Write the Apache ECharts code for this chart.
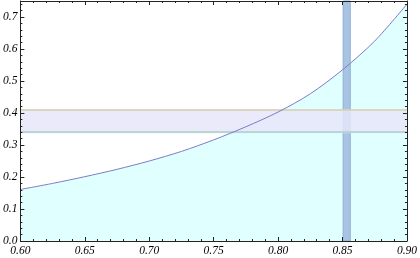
<!DOCTYPE html>
<html><head><meta charset="utf-8">
<script src="https://cdn.jsdelivr.net/npm/echarts@6/dist/echarts.min.js"></script>
<style>html,body{margin:0;padding:0;background:#fff}#c{width:420px;height:258px}</style>
</head><body><div id="c"></div>
<script>
const xValues = [0.600,0.625,0.650,0.675,0.700,0.725,0.750,0.775,0.800,0.825,0.850,0.875,0.900];
const yValues = [0.161,0.180,0.201,0.224,0.250,0.280,0.316,0.357,0.403,0.460,0.535,0.625,0.740];
const hBand = [0.337, 0.411];
const vBand = [0.8505, 0.856];
const xTicks = [0.60,0.65,0.70,0.75,0.80,0.85,0.90];
const yTicks = [0.0,0.1,0.2,0.3,0.4,0.5,0.6,0.7];

const pts = xValues.map((x,i)=>[x,yValues[i]]);
const labelFont = {fontFamily:'Liberation Serif', fontStyle:'italic', fontSize:11.5, color:'#000'};
const axLine = {show:true, onZero:false, lineStyle:{color:'#222', width:1}};
function xa(pos, labels){
  return {type:'value', position:pos, min:0.6, max:0.9, interval:0.05, z:10,
    axisLine:axLine, axisTick:{show:true, inside:true, length:4, lineStyle:{color:'#222'}},
    minorTick:{show:true, splitNumber:5, length:2, lineStyle:{color:'#222'}},
    axisLabel:Object.assign({show:labels, margin:4, formatter:v=>v.toFixed(2)}, labelFont),
    splitLine:{show:false}, minorSplitLine:{show:false}};
}
function ya(pos, labels){
  return {type:'value', position:pos, min:0, max:0.75, interval:0.1, z:10,
    axisLine:axLine, axisTick:{show:true, inside:true, length:4, lineStyle:{color:'#222'}},
    minorTick:{show:true, splitNumber:5, length:2, lineStyle:{color:'#222'}},
    axisLabel:Object.assign({show:labels, margin:3, formatter:v=>yTicks.some(t=>Math.abs(t-v)<1e-6)?v.toFixed(1):''}, labelFont),
    splitLine:{show:false}, minorSplitLine:{show:false}};
}
const chart = echarts.init(document.getElementById('c'), null, {renderer:'canvas'});
chart.setOption({
  animation:false,
  grid:{left:19, right:12, top:1, bottom:17, containLabel:false},
  xAxis:[xa('bottom',true), xa('top',false)],
  yAxis:[ya('left',true), ya('right',false)],
  series:[
    {type:'line', data:pts, smooth:0.3, symbol:'none', z:1,
     lineStyle:{width:0, opacity:0}, areaStyle:{color:'#e0ffff', opacity:1}},
    {type:'line', data:[], z:3, silent:true,
     markArea:{silent:true, z:3, itemStyle:{color:'#a9c3e3', borderColor:'#8eaed6', borderWidth:1},
       data:[[{xAxis:vBand[0], yAxis:0},{xAxis:vBand[1], yAxis:0.75}]]}},
    {type:'line', data:[], z:4, silent:true,
     markArea:{silent:true, z:4, itemStyle:{color:'rgba(230,230,250,0.85)'},
       data:[[{xAxis:0.6, yAxis:hBand[0]},{xAxis:0.9, yAxis:hBand[1]}]]},
     markLine:{silent:true, z:5, symbol:'none', label:{show:false},
       data:[{yAxis:hBand[1], lineStyle:{color:'#d6cfae', width:1.5, type:'solid'}},
             {yAxis:hBand[0], lineStyle:{color:'#a9cfc4', width:1.5, type:'solid'}}]}},
    {type:'line', data:pts, smooth:0.3, symbol:'none', z:6,
     lineStyle:{color:'#7b7bc8', width:1}}
  ]
});
</script></body></html>
